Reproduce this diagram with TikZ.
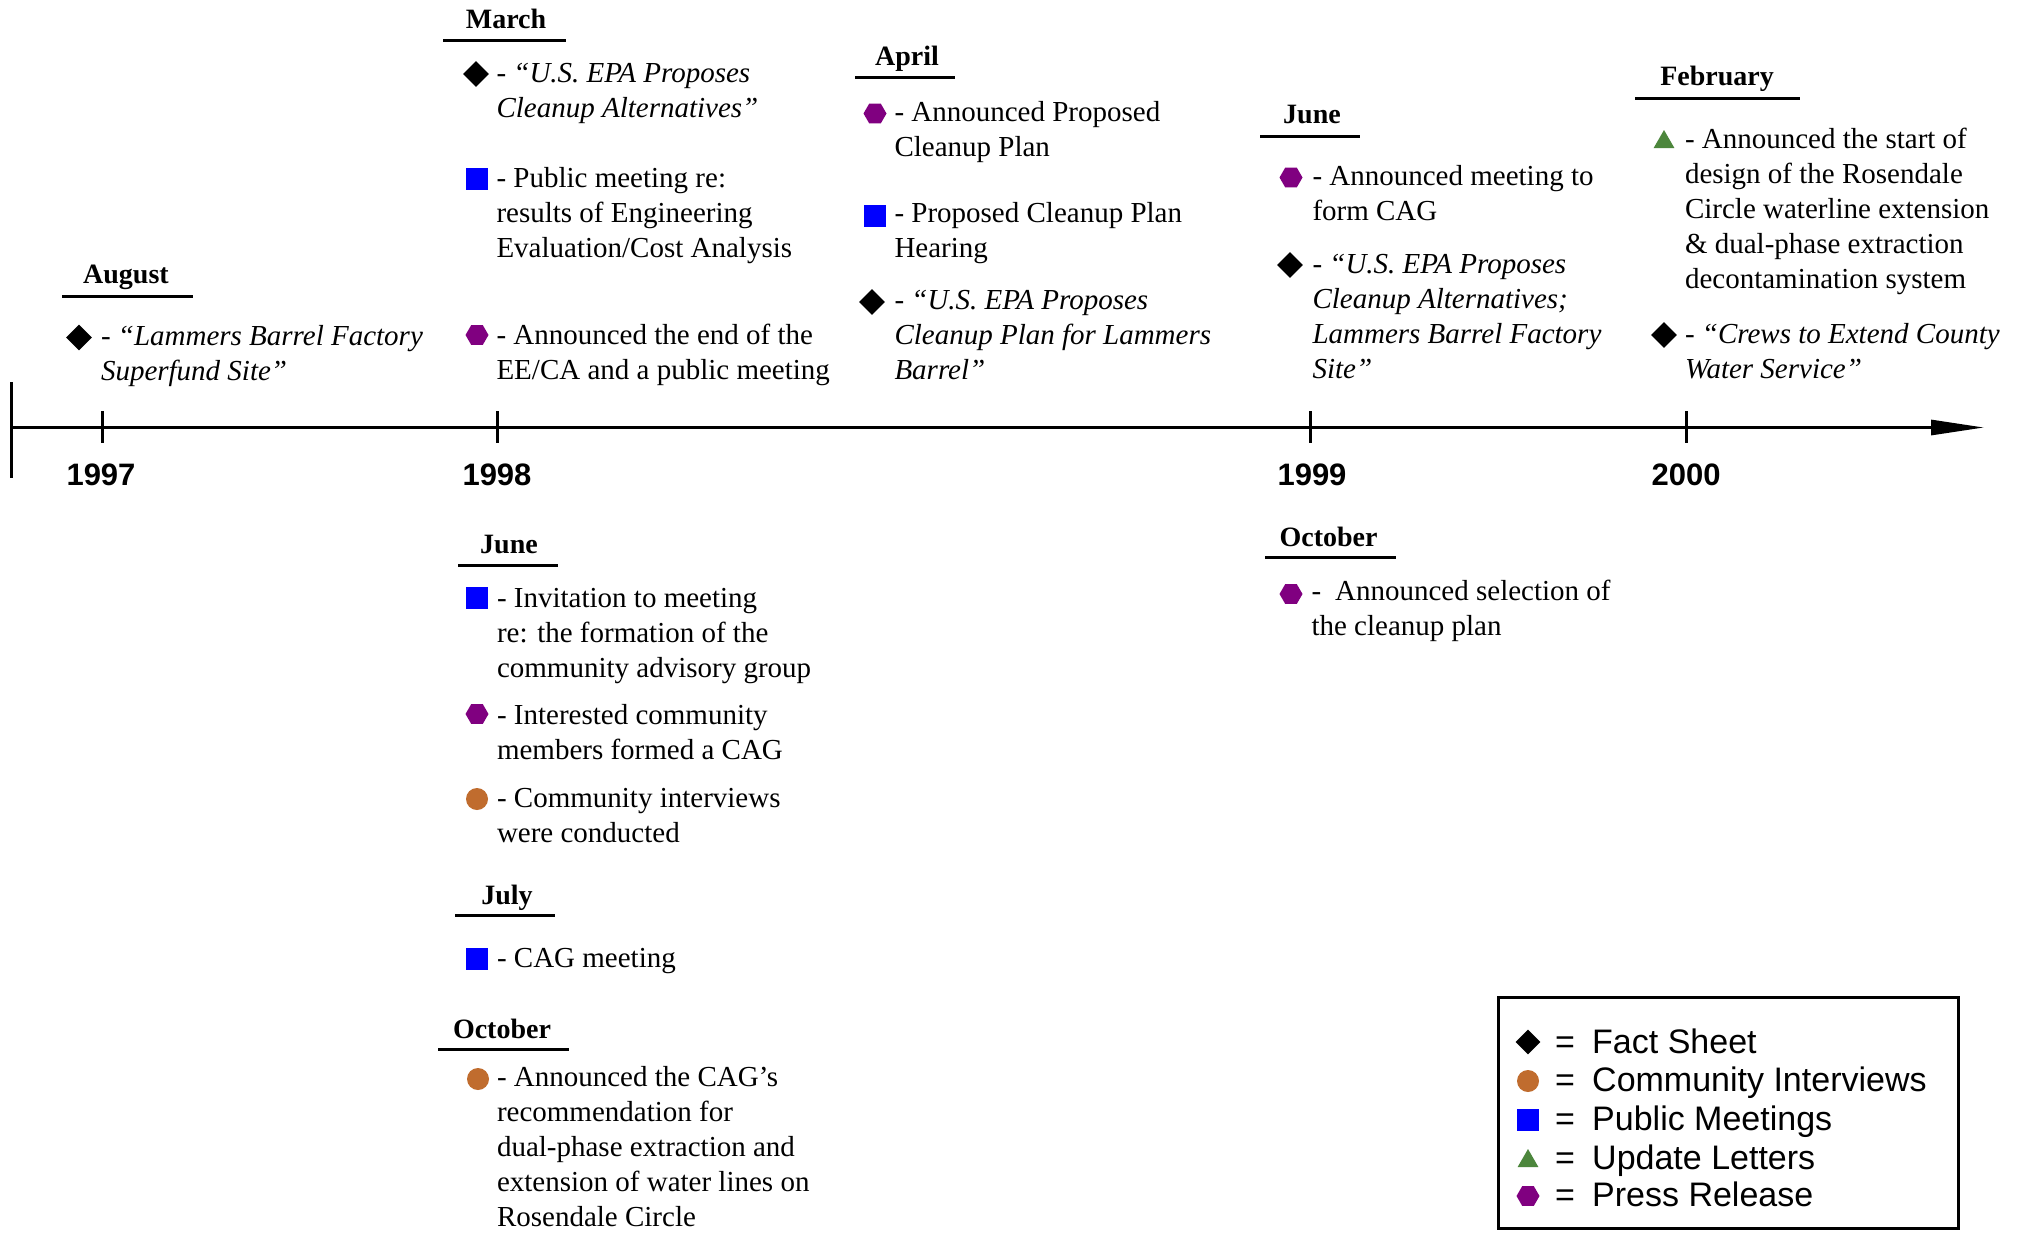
\documentclass[tikz,border=0pt]{standalone}
\usepackage{fontspec}
\setmainfont{Liberation Serif}
\newfontfamily\arialfont{Liberation Sans}
\usetikzlibrary{arrows.meta,shapes.geometric}
\definecolor{pmblue}{RGB}{0,0,255}
\definecolor{ciorange}{RGB}{192,108,46}
\definecolor{ulgreen}{RGB}{76,134,60}
\definecolor{prpurple}{RGB}{128,0,128}
\tikzset{
  fsmark/.style={diamond, fill=black, inner sep=0pt, minimum width=26pt, minimum height=26pt},
  cimark/.style={circle, fill=ciorange, inner sep=0pt, minimum size=22pt},
  pmmark/.style={rectangle, fill=pmblue, inner sep=0pt, minimum size=22pt},
  ulmark/.style={regular polygon, regular polygon sides=3, fill=ulgreen, inner sep=0pt, minimum size=24pt},
  prmark/.style={regular polygon, regular polygon sides=6, fill=prpurple, inner sep=0pt, minimum size=23pt},
  % anchored at the baseline of the LAST line
  body/.style={anchor=base west, inner sep=0pt, outer sep=0pt, align=left, font=\fontsize{29}{35}\selectfont},
  month/.style={anchor=base, inner sep=0pt, font=\fontsize{28}{34}\selectfont\bfseries},
  ul/.style={line width=3pt},
  yr/.style={anchor=base, inner sep=0pt, font=\arialfont\fontsize{31}{36}\selectfont\bfseries},
  lg/.style={anchor=base west, inner sep=0pt, font=\arialfont\fontsize{34}{40}\selectfont},
  lgeq/.style={anchor=base, inner sep=0pt, font=\arialfont\fontsize{34}{40}\selectfont},
  axisline/.style={line width=3pt},
}
\begin{document}
\begin{tikzpicture}[x=1pt,y=-1pt]
\useasboundingbox (0,0) rectangle (2020,1232);
\fill[white] (0,0) rectangle (2020,1232);

% ---------- axis ----------
\coordinate (axL) at (11,427.5);
\coordinate (axR) at (1984,427.5);
\coordinate (barT) at (11,382);
\coordinate (barB) at (11,478);
\draw[axisline] (barT) -- (barB);
\draw[axisline, -{Triangle[length=53pt,width=15pt]}] (axL) -- (axR);
\foreach \nm/\xx in {t97/102, t98/497, t99/1310, t00/1686}{
  \coordinate (\nm) at (\xx,427.5);
  \draw[axisline] (\xx,411) -- (\xx,443);
}
\node[yr] (y97) at (101,485) {1997};
\node[yr] (y98) at (497,485) {1998};
\node[yr] (y99) at (1312,485) {1999};
\node[yr] (y00) at (1686,485) {2000};

% ---------- August 1997 ----------
\node[month] (aug) at (126,283) {August};
\draw[ul] (62,296) -- (193,296);
\node[fsmark] (aug1m) at (79,337.5) {};
\node[body] (aug1) at (101,380) {- \textit{“Lammers Barrel Factory}\\\textit{Superfund Site”}};

% ---------- March 1998 ----------
\node[month] (mar) at (506,28) {March};
\draw[ul] (443,40) -- (566,40);
\node[fsmark] (mar1m) at (476,74) {};
\node[body] (mar1) at (496.5,117) {- \textit{“U.S. EPA Proposes}\\\textit{Cleanup Alternatives”}};
\node[pmmark] (mar2m) at (477,179) {};
\node[body] (mar2) at (496.5,257) {- Public meeting re:\\results of Engineering\\Evaluation/Cost Analysis};
\node[prmark] (mar3m) at (477,335) {};
\node[body] (mar3) at (496.5,379) {- Announced the end of the\\EE/CA and a public meeting};

% ---------- April 1998 ----------
\node[month] (apr) at (907,65) {April};
\draw[ul] (855,77) -- (955,77);
\node[prmark] (apr1m) at (875,113.5) {};
\node[body] (apr1) at (894.5,156) {- Announced Proposed\\Cleanup Plan};
\node[pmmark] (apr2m) at (875,216) {};
\node[body] (apr2) at (894.5,257) {- Proposed Cleanup Plan\\Hearing};
\node[fsmark] (apr3m) at (872,302) {};
\node[body] (apr3) at (894.5,379) {- \textit{“U.S. EPA Proposes}\\\textit{Cleanup Plan for Lammers}\\\textit{Barrel”}};

% ---------- June 1998 ----------
\node[month] (jun8) at (509,553) {June};
\draw[ul] (458,565) -- (558,565);
\node[pmmark] (jun81m) at (477,597.5) {};
\node[body] (jun81) at (497,677) {- Invitation to meeting\\re: the formation of the\\community advisory group};
\node[prmark] (jun82m) at (477,714) {};
\node[body] (jun82) at (497,759) {- Interested community\\members formed a CAG};
\node[cimark] (jun83m) at (477,799) {};
\node[body] (jun83) at (497,842) {- Community interviews\\were conducted};

% ---------- July 1998 ----------
\node[month] (jul8) at (507,904) {July};
\draw[ul] (455,915) -- (555,915);
\node[pmmark] (jul81m) at (477,958.5) {};
\node[body] (jul81) at (497,967) {- CAG meeting};

% ---------- October 1998 ----------
\node[month] (oct8) at (502,1038) {October};
\draw[ul] (438,1049) -- (569,1049);
\node[cimark] (oct81m) at (478,1079) {};
\node[body] (oct81) at (497,1226) {- Announced the CAG’s\\recommendation for\\dual-phase extraction and\\extension of water lines on\\Rosendale Circle};

% ---------- June 1999 ----------
\node[month] (jun9) at (1312,123) {June};
\draw[ul] (1260,136) -- (1360,136);
\node[prmark] (jun91m) at (1291,177.5) {};
\node[body] (jun91) at (1312.5,220) {- Announced meeting to\\form CAG};
\node[fsmark] (jun92m) at (1290,265) {};
\node[body] (jun92) at (1312.5,378) {- \textit{“U.S. EPA Proposes}\\\textit{Cleanup Alternatives;}\\\textit{Lammers Barrel Factory}\\\textit{Site”}};

% ---------- October 1999 ----------
\node[month] (oct9) at (1328.5,546) {October};
\draw[ul] (1265,557) -- (1396,557);
\node[prmark] (oct91m) at (1291,594) {};
\node[body] (oct91) at (1311.5,635) {-\hspace{14pt}Announced selection of\\the cleanup plan};

% ---------- February 2000 ----------
\node[month] (feb0) at (1717,85) {February};
\draw[ul] (1635,98) -- (1800,98);
\node[ulmark] (feb01m) at (1664,142) {};
\node[body] (feb01) at (1685,288) {- Announced the start of\\design of the Rosendale\\Circle waterline extension\\\& dual-phase extraction\\decontamination system};
\node[fsmark] (feb02m) at (1664,335) {};
\node[body] (feb02) at (1685,378) {- \textit{“Crews to Extend County}\\\textit{Water Service”}};

% ---------- legend ----------
\node[draw, line width=3pt, inner sep=0pt, minimum width=460pt, minimum height=231pt, anchor=north west] (legend) at (1497,996) {};
\node[fsmark, minimum width=25pt, minimum height=25pt] (lg1m) at (1528,1042) {};
\node[lgeq] (lg1e) at (1565,1053) {=};
\node[lg] (lg1) at (1592,1053) {Fact Sheet};
\node[cimark] (lg2m) at (1528,1081) {};
\node[lgeq] (lg2e) at (1565,1091.5) {=};
\node[lg] (lg2) at (1592,1091.5) {Community Interviews};
\node[pmmark] (lg3m) at (1528,1119.5) {};
\node[lgeq] (lg3e) at (1565,1130) {=};
\node[lg] (lg3) at (1592,1130) {Public Meetings};
\node[ulmark] (lg4m) at (1528,1161) {};
\node[lgeq] (lg4e) at (1565,1169) {=};
\node[lg] (lg4) at (1592,1169) {Update Letters};
\node[prmark] (lg5m) at (1528,1196) {};
\node[lgeq] (lg5e) at (1565,1206.5) {=};
\node[lg] (lg5) at (1592,1206.5) {Press Release};
\end{tikzpicture}
\end{document}
